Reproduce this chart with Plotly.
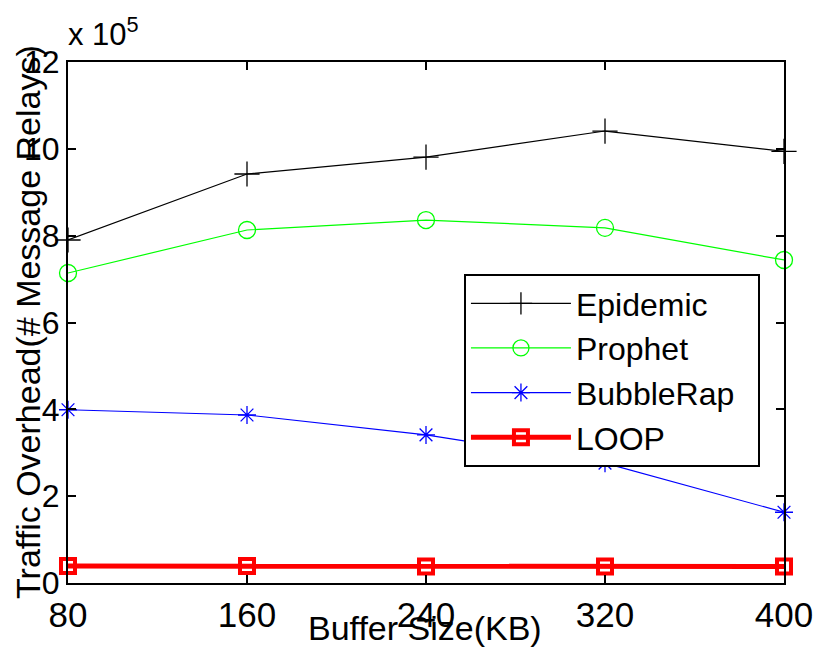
import plotly.graph_objects as go

# Buffer sizes (KB) and traffic overhead (x 10^5 message relays)
buffer_kb = [80, 160, 240, 320, 400]
epidemic = [7.90, 9.42, 9.81, 10.41, 9.94]
prophet = [7.14, 8.13, 8.36, 8.18, 7.44]
bubblerap = [3.99, 3.87, 3.41, 2.76, 1.63]
loop = [0.39, 0.39, 0.38, 0.38, 0.38]

x_ticks = [80, 160, 240, 320, 400]
y_ticks = [0, 2, 4, 6, 8, 10, 12]

FONT = "Liberation Sans, Arial, Helvetica, sans-serif"
NARROW = "Liberation Sans Narrow, Liberation Sans, Arial, sans-serif"

fig = go.Figure()

series = [
    ("Epidemic", epidemic, "black", 1.2, "cross-thin-open", 18, 1.3),
    ("Prophet", prophet, "#00ff00", 1.2, "circle-open", 17, 1.3),
    ("BubbleRap", bubblerap, "#0000ff", 1.2, "asterisk-open", 15, 1.3),
    ("LOOP", loop, "#ff0000", 5, "square-open", 14, 4),
]
for i, (name, vals, color, lw, sym, ms, mlw) in enumerate(series):
    fig.add_trace(go.Scatter(
        x=buffer_kb, y=vals, name=name + "\u00a0\u00a0", mode="lines+markers",
        legendgroup=f"g{i}",
        line=dict(color=color, width=lw),
        marker=dict(symbol=sym, size=ms, color=color,
                    line=dict(color=color, width=mlw)),
        cliponaxis=False,
    ))

fig.update_layout(
    width=817, height=651,
    margin=dict(l=68, r=33, t=62, b=68, autoexpand=False),
    paper_bgcolor="white", plot_bgcolor="white",
    font=dict(family=FONT, size=30, color="black"),
    showlegend=True,
    legend=dict(
        x=0.553, y=0.593, xanchor="left", yanchor="top",
        bgcolor="white", bordercolor="black", borderwidth=2,
        font=dict(family=FONT, size=32),
        itemwidth=100, tracegroupgap=0,
    ),
)

fig.update_xaxes(
    range=[80, 400], tickvals=x_ticks, ticktext=[str(v) for v in x_ticks],
    ticks="inside", ticklen=8, tickwidth=1.5, tickcolor="black",
    showline=True, linewidth=2, linecolor="black", mirror="ticks",
    showgrid=False, zeroline=False, automargin=False,
    tickfont=dict(family=NARROW, size=35),
)
fig.update_yaxes(
    range=[0, 12], tickvals=y_ticks, ticktext=[str(v) for v in y_ticks],
    ticks="inside", ticklen=8, tickwidth=1.5, tickcolor="black",
    showline=True, linewidth=2, linecolor="black", mirror="ticks",
    showgrid=False, zeroline=False, automargin=False,
    tickfont=dict(family=FONT, size=32),
)

# Axis titles and exponent label
fig.add_annotation(
    text="Traffic Overhead(# Message Relays)", textangle=-90,
    xref="paper", yref="paper", x=-0.056, y=0.501,
    xanchor="center", yanchor="middle", showarrow=False,
    font=dict(family=FONT, size=34),
)
fig.add_annotation(
    text="Buffer Size(KB)", xref="paper", yref="paper",
    x=0.498, y=-0.087, xanchor="center", yanchor="middle", showarrow=False,
    font=dict(family=NARROW, size=34),
)
fig.add_annotation(
    text="x 10<sup>5</sup>", xref="paper", yref="paper",
    x=-0.003, y=1.015, xanchor="left", yanchor="bottom", showarrow=False,
    font=dict(family=FONT, size=31),
)

fig.write_html("out.html")
